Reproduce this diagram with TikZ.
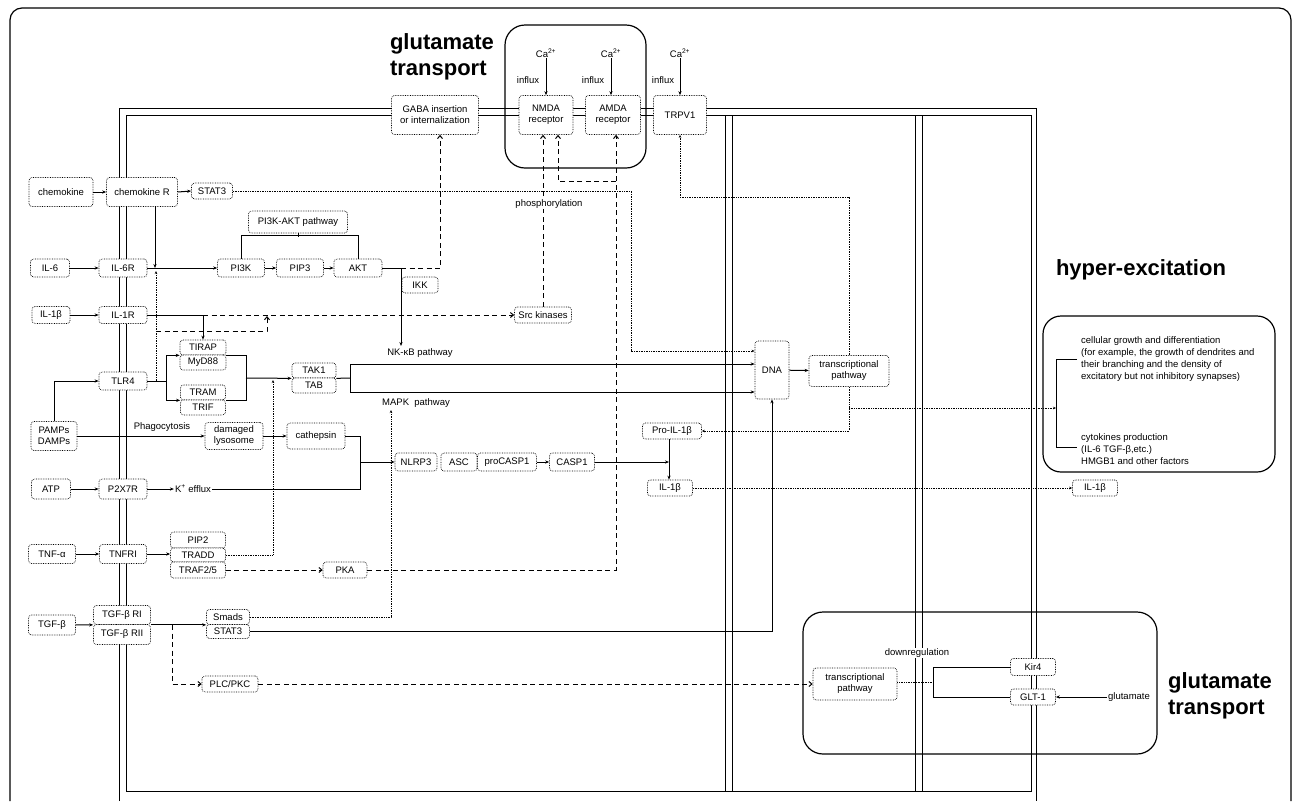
\documentclass[tikz,border=0pt]{standalone}
\usepackage{fontspec}
\setmainfont{Liberation Sans}
\usetikzlibrary{arrows.meta}
\tikzset{
  box/.style={draw,densely dotted,line width=0.7pt,rounded corners=3pt,fill=white,align=center,inner sep=1pt,font=\fontsize{9.5}{11}\selectfont},
  sz/.style 2 args={minimum width=#1,minimum height=#2},
  lbl/.style={inner sep=1pt,align=center,font=\fontsize{9.5}{11}\selectfont},
  title/.style={align=left,inner sep=0pt,font=\bfseries\fontsize{22}{26}\selectfont},
  flow/.style={line width=1pt,-{Stealth[length=4pt,width=3.2pt]}},
  link/.style={line width=1pt},
  dashflow/.style={line width=1pt,dash pattern=on 5pt off 3.5pt,-{Straight Barb[length=3pt,width=5pt]}},
  dotflow/.style={line width=0.7pt,densely dotted,-{Stealth[length=3pt,width=2.5pt]}},
  membrane/.style={line width=0.9pt},
  frame/.style={line width=1.2pt,rounded corners=12pt}
}
\begin{document}
\begin{tikzpicture}[x=1pt,y=-1pt]
\useasboundingbox (0,0) rectangle (1292,801);
\draw[frame] (10,801) -- (10,8) -- (1291,8) -- (1291,801);
\draw[membrane] (119,801) -- (119,108) -- (1036,108) -- (1036,801);
\draw[membrane] (126,115) rectangle (1031,791);
\draw[membrane] (725,115) -- (725,791) (732,115) -- (732,791);
\draw[membrane] (915,115) -- (915,791) (922,115) -- (922,791);
\draw[line width=1.2pt,rounded corners=20pt] (505,25) rectangle (646,168);
\draw[line width=1.2pt,rounded corners=18pt] (1043,316) rectangle (1275,472);
\draw[line width=1.2pt,rounded corners=20pt] (803,612) rectangle (1157,754);

\node[title] (ttlA) at (442,57) {glutamate\\transport};
\node[title] (ttlB) at (1141,270) {hyper-excitation};
\node[title] (ttlC) at (1220,696) {glutamate\\transport};

\node[box,sz={87}{39}] (gaba) at (435,115) {GABA insertion\\or internalization};
\node[box,sz={54}{39}] (nmda) at (546,115) {NMDA\\receptor};
\node[box,sz={55}{39}] (amda) at (613,115) {AMDA\\receptor};
\node[box,sz={53}{39}] (trpv) at (680,115) {TRPV1};
\node[lbl] (ca1) at (546,53) {Ca\textsuperscript{2+}};
\node[lbl] (ca2) at (611,53) {Ca\textsuperscript{2+}};
\node[lbl] (ca3) at (680,53) {Ca\textsuperscript{2+}};
\node[lbl] (inf1) at (528,80) {influx};
\node[lbl] (inf2) at (593,80) {influx};
\node[lbl] (inf3) at (663,80) {influx};

\node[box,sz={64}{29}] (chemo) at (61,192) {chemokine};
\node[box,sz={71}{29}] (chemoR) at (142,192) {chemokine R};
\node[box,sz={41}{16}] (stat3a) at (212,191) {STAT3};
\node[box,sz={99}{22}] (pathPI) at (298,222) {PI3K-AKT pathway};
\node[box,sz={39}{18}] (il6) at (50,268) {IL-6};
\node[box,sz={48}{18}] (il6r) at (123,268) {IL-6R};
\node[box,sz={47}{18}] (pi3k) at (241,268) {PI3K};
\node[box,sz={47}{18}] (pip3) at (300,268) {PIP3};
\node[box,sz={48}{18}] (akt) at (358,268) {AKT};
\node[box,sz={36}{16}] (ikk) at (420,285) {IKK};
\node[box,sz={38}{17}] (il1b) at (51,315) {IL-1β};
\node[box,sz={48}{17}] (il1r) at (123,315) {IL-1R};
\node[box,sz={57}{16}] (src) at (543,315) {Src kinases};
\node[box,sz={46}{15}] (tirap) at (203,347.5) {TIRAP};
\node[box,sz={46}{15}] (myd) at (203,362.5) {MyD88};
\node[box,sz={48}{18}] (tlr4) at (123,381) {TLR4};
\node[box,sz={45}{15}] (tram) at (203,392.5) {TRAM};
\node[box,sz={45}{15}] (trif) at (203,407.5) {TRIF};
\node[box,sz={44}{15}] (tak) at (314,370.5) {TAK1};
\node[box,sz={44}{15}] (tab) at (314,385.5) {TAB};
\node[lbl] (nfkb) at (420,353) {NK-κB pathway};
\node[lbl] (mapk) at (416,403) {MAPK\ \ pathway};
\node[box,sz={46}{29}] (pamps) at (54,436) {PAMPs\\DAMPs};
\node[lbl] (phago) at (162,427) {Phagocytosis};
\node[box,sz={58}{27}] (lyso) at (234,436) {damaged\\lysosome};
\node[box,sz={58}{26}] (cath) at (316,436) {cathepsin};
\node[box,sz={39}{20}] (atp) at (51,489) {ATP};
\node[box,sz={48}{20}] (p2x7r) at (123,489) {P2X7R};
\node[lbl] (kefflux) at (193,489) {K\textsuperscript{+} efflux};
\node[box,sz={42}{18}] (nlrp3) at (416,462) {NLRP3};
\node[box,sz={36}{18}] (asc) at (459,462) {ASC};
\node[box,sz={59}{18}] (procasp) at (507,462) {proCASP1};
\node[box,sz={45}{18}] (casp) at (572,462) {CASP1};
\node[box,sz={59}{16}] (proil) at (672,431) {Pro-IL-1β};
\node[box,sz={45}{16}] (il1bm) at (670,488) {IL-1β};
\node[box,sz={34}{58}] (dna) at (772,370) {DNA};
\node[box,sz={80}{31}] (transA) at (849,371) {transcriptional\\pathway};
\node[box,sz={45}{16}] (il1bR) at (1095,488) {IL-1β};
\node[lbl,align=left,anchor=north west,font=\fontsize{9.5}{12.3}\selectfont] (grow) at (1080,335) {cellular growth and differentiation\\(for example, the growth of dendrites and\\their branching and the density of\\excitatory but not inhibitory synapses)};
\node[lbl,align=left,anchor=north west,font=\fontsize{9.5}{12.3}\selectfont] (cyto) at (1080,432) {cytokines production\\(IL-6 TGF-β,etc.)\\HMGB1 and other factors};
\node[box,sz={47}{19}] (tnfa) at (52,554) {TNF-α};
\node[box,sz={47}{19}] (tnfr) at (123,554) {TNFRI};
\node[box,sz={55}{16}] (pip2) at (198,540) {PIP2};
\node[box,sz={55}{14}] (tradd) at (198,555) {TRADD};
\node[box,sz={55}{16}] (traf) at (198,570) {TRAF2/5};
\node[box,sz={44}{16}] (pka) at (345,570) {PKA};
\node[box,sz={47}{20}] (tgfb) at (52,625) {TGF-β};
\node[box,sz={57}{19}] (tgfr1) at (122,615) {TGF-β RI};
\node[box,sz={57}{20}] (tgfr2) at (122,634.5) {TGF-β RII};
\node[box,sz={43}{15}] (smads) at (228,617) {Smads};
\node[box,sz={43}{14}] (stat3b) at (228,631.5) {STAT3};
\node[box,sz={56}{16}] (plc) at (230,684) {PLC/PKC};
\node[box,sz={84}{32}] (transB) at (855,684) {transcriptional\\pathway};
\node[lbl,fill=white] (downreg) at (917,653) {downregulation};
\node[box,sz={45}{17}] (kir4) at (1033,667) {Kir4};
\node[box,sz={45}{16}] (glt) at (1033,697) {GLT-1};
\node[lbl] (glut) at (1129,697) {glutamate};

\coordinate (jChem) at (155,268);
\coordinate (jAkt) at (401,268);
\coordinate (nfIn) at (401,346);
\coordinate (jIl1) at (203,315);
\coordinate (jTlrUp) at (156,381);
\coordinate (tlrTop) at (156,271);
\coordinate (dsA) at (156,331);
\coordinate (dsB) at (267,316);
\coordinate (jTlr) at (166,381);
\coordinate (jMy) at (246,378);
\coordinate (jTak) at (350,378);
\coordinate (nkA) at (350,364);
\coordinate (mapA) at (350,392);
\coordinate (catA) at (360,436);
\coordinate (catB) at (360,489);
\coordinate (jCat) at (360,462);
\coordinate (jStat) at (631,191);
\coordinate (jStat2) at (631,351);
\coordinate (jCasp) at (669,462);
\coordinate (jTr) at (849,408);
\coordinate (brk) at (1056,408);
\coordinate (jTrp) at (849,197);
\coordinate (jTrad) at (273,380);
\coordinate (jPka) at (616,181);
\coordinate (mapIn) at (391,410);
\coordinate (jTgf) at (172,625);
\coordinate (jDown) at (933,682);

\draw[flow] (ca1) -- (nmda);
\draw[flow] (ca2) -- (ca2 |- amda.north);
\draw[flow] (ca3) -- (trpv);
\draw[flow] (chemo) -- (chemoR);
\draw[flow] (chemoR.east) -- (stat3a.west);
\draw[dotflow] (stat3a) -- (jStat) -- (jStat2) -- (jStat2 -| dna.west);
\draw[flow] (chemoR.south -| jChem) -- (jChem);
\draw[flow] (il6) -- (il6r);
\draw[flow] (il6r) -- (pi3k);
\draw[flow] (pi3k) -- (pip3);
\draw[flow] (pip3) -- (akt);
\draw[link] (pathPI.south) -- ++(0,4);
\draw[link] (pi3k.north) -- ++(0,-23) -| (akt.north);
\draw[link] (akt) -- (jAkt);
\draw[flow] (jAkt) -- (nfIn);
\draw[dashflow] (jAkt) -| ([xshift=5pt]gaba.south);
\draw[flow] (il1b) -- (il1r);
\draw[link] (il1r) -- (jIl1);
\draw[flow] (jIl1) -- (tirap);
\draw[dashflow] (jIl1) -- (src);
\draw[dotflow] (jTlrUp) -- (tlrTop);
\draw[dashflow] (dsA) -| (dsB);
\draw[dashflow] (src.north) -- (src.north |- nmda.south);
\node[lbl,fill=white] (phos) at (549,204) {phosphorylation};
\draw[flow] (pamps.north) |- (tlr4.west);
\draw[link] (tlr4) -- (jTlr);
\draw[flow] (jTlr) |- (tirap.south west);
\draw[flow] (jTlr) |- (tram.south west);
\draw[link] (tirap.south east) -- ++(20,0) |- (tram.south east);
\draw[flow] (jMy) -- (tak.south west);
\draw[dotflow] (tradd.east) -| (jTrad);
\draw[link] (tak.south east) -- (jTak);
\draw[link] (nkA) -- (mapA);
\draw[flow] (nkA) -- (nkA -| dna.west);
\draw[flow] (mapA) -- (mapA -| dna.west);
\draw[flow] (pamps) -- (lyso);
\draw[flow] (lyso) -- (cath);
\draw[flow] (atp) -- (p2x7r);
\draw[flow] (p2x7r) -- (kefflux);
\draw[link] (cath) -- (catA) -- (catB) -- (kefflux);
\draw[flow] (jCat) -- (nlrp3);
\draw[flow] (procasp) -- (casp);
\draw[flow] (casp) -- (jCasp);
\draw[flow] (proil.south -| jCasp) -- (il1bm.north -| jCasp);
\draw[flow] (dna) -- (transA);
\draw[dotflow] (transA) |- (proil);
\draw[dotflow] (jTr) -- (brk);
\draw[dotflow] (transA) -- (jTrp) -| (trpv);
\draw[link] (1077,359) -- (1056,359) -- (1056,447) -- (1077,447);
\draw[dotflow] (il1bm) -- (il1bR);
\draw[flow] (tnfa) -- (tnfr);
\draw[flow] (tnfr) -- (tnfr -| tradd.west);
\draw[dashflow] (traf) -- (pka);
\draw[dashflow] (pka) -| ([xshift=3pt]amda.south);
\draw[dashflow] (jPka) -| ([xshift=12pt]nmda.south);
\draw[dotflow] (smads) -| (mapIn);
\draw[flow] (stat3b) -| (dna);
\draw[flow] (tgfb) -- (tgfr1.south west);
\draw[flow] (tgfr1.south east) -- (smads.south west);
\draw[dashflow] (jTgf) |- (plc);
\draw[dashflow] (plc) -- (transB);
\draw[densely dotted,line width=0.7pt] (transB.east |- jDown) -- (jDown);
\draw[link] (kir4) -| (jDown) |- (glt);
\draw[flow] (glut) -- (glt);
\end{tikzpicture}
\end{document}
